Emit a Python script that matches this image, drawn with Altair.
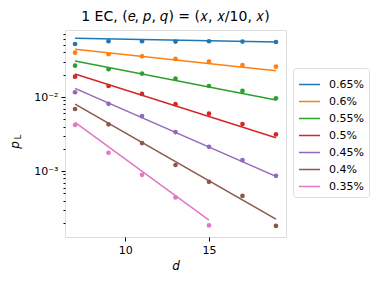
import altair as alt
import pandas as pd

d_vals = [7, 9, 11, 13, 15, 17, 19]
rates = ["0.65%", "0.6%", "0.55%", "0.5%", "0.45%", "0.4%", "0.35%"]
colors = ["#1f77b4", "#ff7f0e", "#2ca02c", "#d62728", "#9467bd", "#8c564b", "#e377c2"]

pts_065 = [0.052, 0.0566, 0.0566, 0.0560, 0.0566, 0.0560, 0.0553]
pts_060 = [0.0397, 0.0378, 0.0355, 0.0327, 0.0300, 0.0270, 0.0257]
pts_055 = [0.0265, 0.0237, 0.0207, 0.0177, 0.0141, 0.0121, 0.0096]
pts_050 = [0.0188, 0.0141, 0.0110, 0.0080, 0.00596, 0.00432, 0.00313]
pts_045 = [0.0116, 0.0081, 0.00553, 0.00336, 0.00213, 0.00141, 0.000864]
pts_040 = [0.00689, 0.00428, 0.00239, 0.00121, 0.000716, 0.000463, 0.000182]
pts_035 = [0.00419, 0.00177, 0.000891, 0.000441, 0.000185]

fit_d_start = [7, 7, 7, 7, 7, 7, 7]
fit_d_end = [19, 19, 19, 19, 19, 19, 15]
fit_start = [0.062, 0.0442, 0.0306, 0.0205, 0.0131, 0.00804, 0.00455]
fit_end = [0.0553, 0.0227, 0.0091, 0.00282, 0.000848, 0.000225, 0.000218]

all_pts = [pts_065, pts_060, pts_055, pts_050, pts_045, pts_040, pts_035]

rows = []
for r, pts in zip(rates, all_pts):
    for dv, p in zip(d_vals, pts):
        rows.append({"d": dv, "p": p, "rate": r})
pts_df = pd.DataFrame(rows)

lrows = []
for i, r in enumerate(rates):
    lrows.append({"d": fit_d_start[i], "p": fit_start[i], "rate": r})
    lrows.append({"d": fit_d_end[i], "p": fit_end[i], "rate": r})
line_df = pd.DataFrame(lrows)

major_vals = [0.001, 0.01]
minor_vals = [k * 10.0 ** e for e in (-4, -3, -2) for k in range(2, 10)]
minor_vals = [v for v in minor_vals if v < 0.08]
tick_vals = sorted(major_vals + minor_vals)

xscale = alt.Scale(domain=[6.4, 19.6], nice=False, zero=False)
yscale = alt.Scale(type="log", domain=[1.29e-4, 0.0803], nice=False)
cscale = alt.Scale(domain=rates, range=colors)

is_major = "(datum.value == 0.01 || datum.value == 0.001)"

xaxis = alt.Axis(values=[10, 15], title="d", titleFontStyle="italic", titleFontWeight="normal",
                 titleFontSize=12, labelFontSize=11, tickSize=4, tickColor="black",
                 labelColor="black", titleColor="black", domain=False, grid=False,
                 titlePadding=5, labelPadding=3)
yaxis = alt.Axis(values=tick_vals, orient="left",
                 labelExpr="datum.value == 0.001 ? '10⁻³' : (datum.value == 0.01 ? '10⁻²' : '')",
                 title=None, labelFontSize=11,
                 tickSize={"condition": {"test": is_major, "value": 4}, "value": 2},
                 tickColor="black", labelColor="black", labelPadding=3,
                 domain=False, grid=False, labelOverlap=False)

legend = alt.Legend(title=None, orient="none", legendX=228, legendY=38,
                    symbolType="stroke", symbolStrokeWidth=1.5,
                    symbolSize=441, labelFontSize=11, rowPadding=-2.7,
                    strokeColor="#dddddd", padding=5, cornerRadius=3,
                    fillColor="white", labelColor="black", labelOffset=8)

lines = alt.Chart(line_df).mark_line(strokeWidth=1.5).encode(
    x=alt.X("d:Q", scale=xscale, axis=xaxis),
    y=alt.Y("p:Q", scale=yscale, axis=yaxis),
    color=alt.Color("rate:N", scale=cscale, sort=rates, legend=legend),
    detail="rate:N",
)

points = alt.Chart(pts_df).mark_circle(size=22, opacity=1).encode(
    x=alt.X("d:Q", scale=xscale),
    y=alt.Y("p:Q", scale=yscale),
    color=alt.Color("rate:N", scale=cscale, sort=rates, legend=legend),
)

ylab_p = alt.Chart(pd.DataFrame({"t": ["p"]})).mark_text(
    angle=270, fontSize=12, fontStyle="italic", color="black", baseline="middle", align="center"
).encode(text="t:N", x=alt.value(-50), y=alt.value(115))

ylab_L = alt.Chart(pd.DataFrame({"t": ["L"]})).mark_text(
    angle=270, fontSize=8, color="black", baseline="middle", align="center"
).encode(text="t:N", x=alt.value(-46), y=alt.value(107))

chart = alt.layer(lines, points, ylab_p, ylab_L).properties(
    width=221, height=207,
    title=alt.Title("1 EC, (𝑒, 𝑝, 𝑞) = (𝑥, 𝑥/10, 𝑥)", fontSize=14, fontWeight="normal",
                    color="black", offset=4),
    autosize=alt.AutoSizeParams(type="none"),
    padding={"left": 57, "top": 22, "right": 89, "bottom": 40},
).configure_view(stroke="black", strokeWidth=1).configure(font="DejaVu Sans")

chart.save("out.html", embed_options={"renderer": "svg", "actions": False})
